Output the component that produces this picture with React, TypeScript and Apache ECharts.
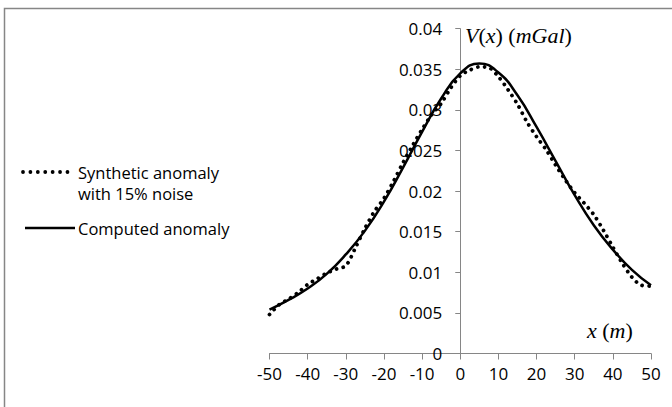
import React, { useEffect, useRef } from "react";
import * as echarts from "echarts";

// Computed anomaly (solid) — x in m, V in mGal
const computedX = [-50, -45, -40, -35, -30, -25, -20, -15, -10, -5, 0, 5, 10, 15, 20, 25, 30, 35, 40, 45, 50];
const computedV = [0.0054, 0.0066, 0.0080, 0.0098, 0.0122, 0.0151, 0.0187, 0.0229, 0.0273, 0.0314, 0.0345, 0.0357, 0.0346, 0.0318, 0.0279, 0.0237, 0.0195, 0.0158, 0.0128, 0.0103, 0.0084];

// Synthetic anomaly with 15% noise (dotted)
const syntheticX = [-50, -47.5, -45, -42.5, -40, -37.5, -35, -32.5, -30, -27.5, -25, -22.5, -20, -17.5, -15, -12.5, -10, -7.5, -5, -2.5, 0, 2.5, 5, 7.5, 10, 12.5, 15, 17.5, 20, 22.5, 25, 27.5, 30, 32.5, 35, 37.5, 40, 42.5, 45, 47.5, 50];
const syntheticV = [0.0048, 0.0060, 0.0067, 0.0075, 0.0085, 0.0092, 0.0099, 0.0104, 0.0108, 0.0130, 0.0154, 0.0175, 0.0191, 0.0212, 0.0235, 0.0256, 0.0276, 0.0294, 0.0308, 0.0327, 0.0342, 0.0349, 0.0353, 0.0352, 0.0341, 0.0325, 0.0307, 0.0285, 0.0267, 0.0251, 0.0232, 0.0214, 0.0198, 0.0185, 0.0171, 0.0152, 0.0131, 0.0111, 0.0094, 0.0084, 0.0083];

const xTickMin = -50;
const xTickMax = 50;
const xTickStep = 10;
const yTickMin = 0;
const yTickMax = 0.04;
const yTickStep = 0.005;

const legendSynthetic = ["Synthetic anomaly", "with 15% noise"];
const legendComputed = "Computed anomaly";

const SANS = '"Open Sans", "Noto Sans", sans-serif';
const SERIF = '"Liberation Serif", "DejaVu Serif", serif';
const AXIS_GREY = "#868686";

const GRID_LEFT = 269.5;
const GRID_RIGHT = 21;
const CHART_W = 672;

export default function App() {
  const ref = useRef<HTMLDivElement>(null);

  useEffect(() => {
    if (!ref.current) return;
    const chart = echarts.init(ref.current, undefined, { renderer: "svg" });

    const serifRich = {
      i: { fontFamily: SERIF, fontSize: 22, fontStyle: "italic", fill: "#000" },
      n: { fontFamily: SERIF, fontSize: 22, fontStyle: "normal", fill: "#000" },
    };

    // place the y axis where x = 0 (axis offset from the grid's left edge)
    const plotW = CHART_W - GRID_LEFT - GRID_RIGHT;
    const zeroOffset = ((0 - xTickMin) / (xTickMax - xTickMin)) * plotW;

    chart.setOption({
      animation: false,
      backgroundColor: "#fff",
      grid: { left: GRID_LEFT, right: GRID_RIGHT, top: 28.7, bottom: 53.5, containLabel: false },
      xAxis: {
        type: "value",
        min: xTickMin,
        max: xTickMax,
        interval: xTickStep,
        axisLine: { show: true, onZero: false, lineStyle: { color: AXIS_GREY, width: 1 } },
        axisTick: { show: true, inside: false, length: 6, lineStyle: { color: AXIS_GREY } },
        axisLabel: { color: "#000", fontFamily: SANS, fontSize: 17, margin: 11 },
        splitLine: { show: false },
      },
      yAxis: {
        type: "value",
        min: yTickMin,
        max: yTickMax,
        interval: yTickStep,
        position: "left",
        offset: -zeroOffset,
        axisLine: { show: true, onZero: false, lineStyle: { color: AXIS_GREY, width: 1 } },
        axisTick: { show: true, inside: false, length: 5, lineStyle: { color: AXIS_GREY } },
        axisLabel: {
          color: "#000",
          fontFamily: SANS,
          fontSize: 17,
          margin: 18,
          formatter: (v: number) => String(+v.toFixed(3)),
        },
        splitLine: { show: false },
      },
      series: [
        {
          name: "Synthetic anomaly with 15% noise",
          type: "line",
          data: syntheticX.map((x, i) => [x, syntheticV[i]]),
          showSymbol: false,
          smooth: 0.3,
          lineStyle: { color: "#000", width: 3.8, type: [0.01, 6.8], cap: "round" },
          z: 3,
        },
        {
          name: "Computed anomaly",
          type: "line",
          data: computedX.map((x, i) => [x, computedV[i]]),
          showSymbol: false,
          smooth: true,
          lineStyle: { color: "#000", width: 2.5 },
          z: 4,
        },
      ],
      graphic: [
        {
          type: "rect",
          shape: { x: 4.5, y: 8.5, width: 720, height: 460 },
          style: { fill: "none", stroke: AXIS_GREY, lineWidth: 1.5 },
          silent: true,
          z: -1,
        },
        {
          type: "line",
          shape: { x1: 23, y1: 172, x2: 68, y2: 172 },
          style: { stroke: "#000", lineWidth: 3.8, lineDash: [0.01, 7.4], lineCap: "round" },
        },
        {
          type: "text",
          x: 78,
          y: 172,
          style: { text: legendSynthetic[0], font: `16.5px ${SANS}`, fill: "#000", verticalAlign: "middle" },
        },
        {
          type: "text",
          x: 78,
          y: 193,
          style: { text: legendSynthetic[1], font: `16.5px ${SANS}`, fill: "#000", verticalAlign: "middle" },
        },
        {
          type: "line",
          shape: { x1: 25, y1: 228, x2: 75, y2: 228 },
          style: { stroke: "#000", lineWidth: 2.5 },
        },
        {
          type: "text",
          x: 78,
          y: 228,
          style: { text: legendComputed, font: `16.5px ${SANS}`, fill: "#000", verticalAlign: "middle" },
        },
        {
          type: "text",
          x: 465,
          y: 35,
          style: {
            text: "{i|V}{n|(}{i|x}{n|) (}{i|mGal}{n|)}",
            rich: serifRich,
            verticalAlign: "middle",
            fill: "#000",
          },
        },
        {
          type: "text",
          x: 587,
          y: 330,
          style: {
            text: "{i|x}{n| (}{i|m}{n|)}",
            rich: serifRich,
            verticalAlign: "middle",
            fill: "#000",
          },
        },
      ],
    });

    return () => chart.dispose();
  }, []);

  return (
    <div
      ref={ref}
      style={{ position: "absolute", left: 0, top: 0, width: CHART_W, height: 407 }}
    />
  );
}
